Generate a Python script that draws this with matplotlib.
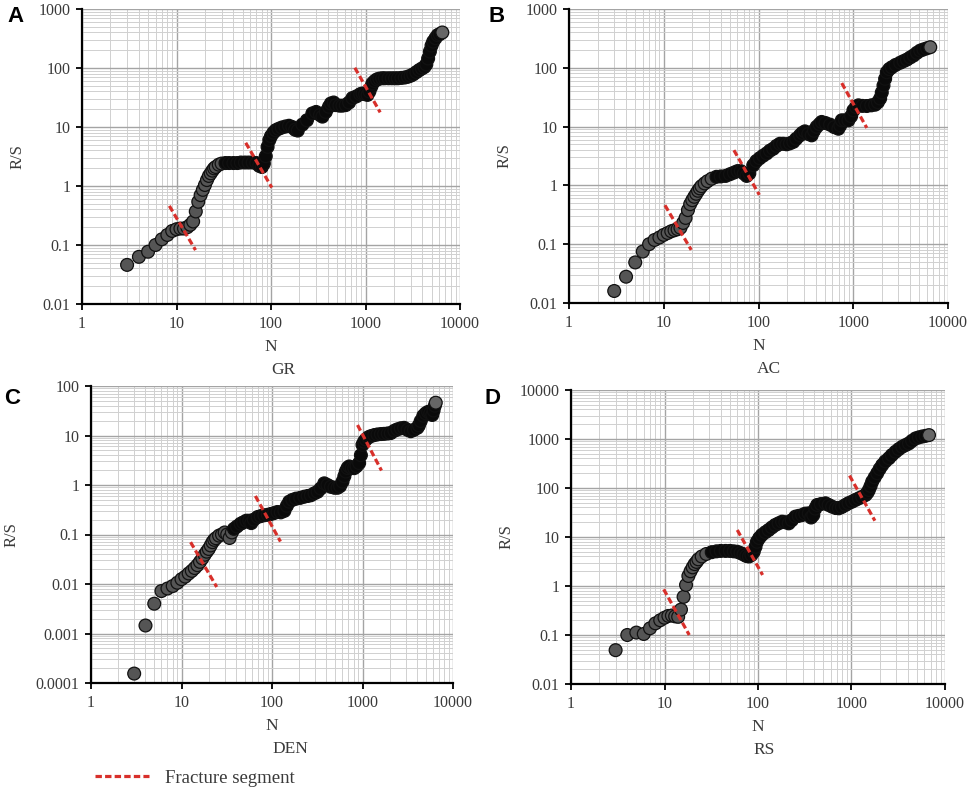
import numpy as np
import matplotlib
matplotlib.use("Agg")
import matplotlib.pyplot as plt
from matplotlib.lines import Line2D
from matplotlib.ticker import LogLocator, FixedLocator, FuncFormatter, NullFormatter

plt.rcParams['font.family'] = ['Liberation Serif', 'DejaVu Serif']

# ---- data (N, R/S) ----
n_gr = [3, 4, 5, 6, 7, 8, 9, 10, 11, 12, 13, 14, 15, 16, 17, 18, 19, 20, 21, 22, 23, 24, 25, 26, 28, 30,
        33, 36, 40, 44, 48, 53, 58, 64, 70, 75, 80, 84, 88, 92, 96, 100, 106, 112, 120, 130, 142, 155, 168,
        180, 192, 215, 240, 274, 300, 330, 350, 380, 410, 430, 460, 485, 530, 570, 618, 670, 728, 800, 880,
        929, 990, 1050, 1100, 1150, 1186, 1250, 1320, 1400, 1500, 1600, 1750, 1900, 2050, 2200, 2400, 2600,
        2800, 3000, 3200, 3450, 3700, 3950, 4200, 4400, 4600, 4800, 5000, 5200, 5500, 5800, 6100, 6500]
rs_gr = [0.046, 0.063, 0.077, 0.10, 0.125, 0.148, 0.173, 0.185, 0.19, 0.19, 0.20, 0.22, 0.25, 0.37, 0.54,
         0.70, 0.86, 1.04, 1.26, 1.48, 1.64, 1.82, 1.99, 2.1, 2.3, 2.4, 2.45, 2.45, 2.45, 2.45, 2.5, 2.5, 2.5,
         2.5, 2.45, 2.2, 2.1, 2.4, 3.2, 4.6, 6.0, 7.0, 8.0, 8.8, 9.3, 9.8, 10.2, 10.5, 10, 9.0, 8.7, 11, 13,
         17, 18, 16, 15, 18, 22, 25, 26, 23.5, 23, 23, 23.5, 26, 31, 33, 36, 37, 36, 35, 40, 48, 55, 60, 64,
         66, 67, 67, 67, 67, 67, 67, 68, 69, 71, 74, 78, 85, 92, 98, 104, 115, 145, 190, 240, 280, 320, 360,
         375, 400]

n_ac = [3, 4, 5, 6, 7, 8, 9, 10, 11, 12, 13, 14, 15, 16, 17, 18, 19, 20, 21, 22, 23, 24, 25, 27, 29, 32,
        36, 40, 45, 50, 55, 60, 65, 70, 75, 80, 88, 95, 103, 112, 122, 132, 143, 155, 168, 182, 198, 215,
        233, 250, 274, 290, 309, 335, 364, 385, 411, 440, 464, 510, 569, 630, 697, 730, 756, 820, 889, 950,
        1004, 1070, 1134, 1250, 1390, 1550, 1701, 1820, 1922, 2000, 2085, 2170, 2260, 2400, 2553, 2800,
        3130, 3400, 3680, 4000, 4334, 4700, 5093, 5500, 6000, 6500]
rs_ac = [0.016, 0.028, 0.049, 0.075, 0.10, 0.118, 0.13, 0.144, 0.155, 0.166, 0.173, 0.18, 0.19, 0.23,
         0.28, 0.38, 0.48, 0.56, 0.64, 0.72, 0.81, 0.89, 0.97, 1.08, 1.18, 1.3, 1.4, 1.42, 1.45, 1.55, 1.65,
         1.75, 1.75, 1.6, 1.45, 1.6, 2.2, 2.6, 2.9, 3.2, 3.5, 3.9, 4.2, 4.7, 5.1, 5.1, 5.0, 5.2, 5.5, 6.2,
         7.1, 7.8, 8.3, 7.5, 7.1, 8.5, 9.9, 11, 12, 11.5, 10.8, 9.8, 9.2, 10.5, 12.8, 12.8, 12.8, 15, 18.9,
         21.5, 23, 22.5, 22.4, 23, 23.6, 26, 30, 38, 50, 65, 84, 95, 102, 112, 122, 130, 138, 150, 162, 180,
         196, 205, 215, 224]

n_den = [3, 4, 5, 6, 7, 8, 9, 10, 11, 12, 13, 14, 15, 16, 17, 18, 19, 20, 21, 22, 23, 24, 26, 28, 30, 32,
         34, 36, 38, 41, 45, 48, 52, 56, 59, 63, 69.5, 75, 82, 90, 97.5, 105, 115, 125, 137, 146, 155, 168,
         184, 205, 227, 248, 269, 295, 319, 345, 378, 410, 448, 490, 530, 565, 601, 630, 654, 683, 713, 760,
         809, 860, 918, 960, 1000, 1040, 1089, 1160, 1236, 1350, 1463, 1600, 1734, 1900, 2053, 2250, 2432,
         2650, 2882, 3150, 3413, 3700, 4044, 4200, 4398, 4700, 5000, 5300, 5600, 5900, 6100, 6300, 6450]
rs_den = [0.000155, 0.00145, 0.004, 0.0072, 0.0081, 0.0091, 0.0106, 0.0125, 0.0141, 0.0163, 0.0184, 0.021,
          0.024, 0.028, 0.033, 0.039, 0.045, 0.051, 0.060, 0.070, 0.078, 0.084, 0.095, 0.10, 0.11, 0.10,
          0.085, 0.11, 0.13, 0.145, 0.165, 0.175, 0.19, 0.19, 0.17, 0.2, 0.226, 0.235, 0.245, 0.25, 0.26,
          0.27, 0.285, 0.28, 0.3, 0.38, 0.46, 0.5, 0.53, 0.55, 0.58, 0.6, 0.62, 0.68, 0.73, 0.85, 1.08, 1.0,
          0.92, 0.88, 0.88, 0.95, 1.17, 1.5, 1.87, 2.2, 2.37, 2.2, 2.19, 2.4, 2.77, 4.0, 6.5, 7.5, 8.3, 9.2,
          9.7, 10.2, 10.5, 10.7, 10.8, 11, 11.2, 12.5, 13.3, 14, 14.3, 13, 12.2, 13, 14.3, 16, 19.6, 25, 28,
          30, 28, 26, 32, 40, 46]

n_rs = [3, 4, 5, 6, 7, 8, 9, 10, 11, 12, 13, 14, 15, 16, 17, 18, 19, 20, 21, 22, 23, 25, 28, 32, 36, 40,
        45, 50, 55, 60, 65, 70, 75, 80, 85, 90, 94, 97.5, 103, 110, 120, 130, 141, 153, 166, 181, 196, 213,
        230, 251, 272, 296, 320, 349, 370, 390, 410, 429, 470, 526, 570, 621, 680, 731, 790, 862, 930,
        1016, 1100, 1199, 1300, 1413, 1480, 1534, 1600, 1665, 1770, 1883, 2000, 2131, 2300, 2512, 2700,
        2960, 3200, 3491, 3800, 4113, 4450, 4849, 5250, 5714, 6200, 6741]
rs_rs = [0.049, 0.10, 0.112, 0.105, 0.137, 0.173, 0.20, 0.225, 0.245, 0.25, 0.24, 0.235, 0.33, 0.6, 1.05,
         1.6, 2.0, 2.4, 2.8, 3.1, 3.5, 4.0, 4.5, 4.9, 5.1, 5.2, 5.2, 5.2, 5.1, 5.0, 4.7, 4.4, 4.1, 4.0, 4.3,
         5.0, 6.3, 8.0, 9.5, 11, 12.5, 13.9, 15.7, 17.6, 19, 20.5, 20, 19, 22, 26, 27, 28, 30, 30.4, 25, 28,
         38, 45, 47, 48.7, 45, 41.6, 39, 38.5, 41, 45, 49, 52.7, 57, 61.6, 66, 72, 80, 91, 110, 135, 165,
         200, 245, 294, 350, 405, 470, 550, 620, 696, 755, 815, 920, 1028, 1080, 1125, 1160, 1200]

# fracture segments: ((N start, N end), (R/S start, R/S end))
seg_gr = [((8.4, 15.9), (0.46, 0.082)), ((54, 102), (5.4, 0.94)), ((771, 1430), (101, 17.7))]
seg_ac = [((10.3, 19.5), (0.46, 0.080)), ((55, 102), (3.97, 0.69)), ((756, 1390), (55, 9.5))]
seg_den = [((12.6, 24.5), (0.07, 0.0087)), ((65.5, 124), (0.60, 0.072)), ((881, 1621), (16.3, 1.96))]
seg_rs = [((9.8, 18.4), (0.855, 0.10)), ((60, 112), (13.9, 1.68)), ((952, 1778), (179, 21.5))]

W, H = 969, 789
fig = plt.figure(figsize=(W / 100, H / 100), dpi=100)

RED = '#d8302b'
TXT = '#3a3a3a'


def panel(box, n, rs, segs, ylim, letter, letter_xy, name, name_x, gray_cut):
    l, r, t, b = box
    ax = fig.add_axes([l / W, 1 - b / H, (r - l) / W, (b - t) / H])
    ax.set_xscale('log')
    ax.set_yscale('log')
    ax.set_xlim(1, 10000)
    ax.set_ylim(*ylim)

    n = np.array(n, dtype=float)
    rs = np.array(rs, dtype=float)
    face = np.where(n <= gray_cut, '#555555', '#0a0a0a')
    face[-1] = '#666666'
    ax.scatter(n, rs, s=85, c=list(face), edgecolors='#111111', linewidths=0.9, zorder=3, clip_on=False)

    for xs, ys in segs:
        ax.plot(xs, ys, color=RED, lw=2.3, dashes=(2, 1), zorder=4)

    dec_y = np.arange(int(np.log10(ylim[0])), int(np.log10(ylim[1])) + 1)
    ax.xaxis.set_major_locator(FixedLocator([1, 10, 100, 1000, 10000]))
    ax.yaxis.set_major_locator(FixedLocator(10.0 ** dec_y))
    fmt = FuncFormatter(lambda v, p: '%g' % v)
    ax.xaxis.set_major_formatter(fmt)
    ax.yaxis.set_major_formatter(fmt)
    for axis in (ax.xaxis, ax.yaxis):
        axis.set_minor_locator(LogLocator(base=10, subs=np.arange(2, 10), numticks=100))
        axis.set_minor_formatter(NullFormatter())

    ax.grid(True, which='major', color='#a4a4a4', lw=1.0, zorder=0)
    ax.grid(True, which='minor', color='#d0d0d0', lw=0.7, zorder=0)
    ax.set_axisbelow(True)
    for s in ('top', 'right'):
        ax.spines[s].set_visible(False)
    for s in ('left', 'bottom'):
        ax.spines[s].set_linewidth(1.6)
        ax.spines[s].set_color('black')
    ax.tick_params(which='major', direction='out', length=4.5, width=1.3, labelsize=11.5,
                   labelcolor=TXT, pad=4)
    ax.tick_params(which='minor', length=0)

    hpx = b - t
    ax.text(0.5, -43 / hpx, 'N', transform=ax.transAxes, ha='center', va='center',
            fontsize=12.5, color=TXT)
    ax.text(name_x, -66 / hpx, name, transform=ax.transAxes, ha='center', va='center',
            fontsize=12.5, color=TXT)
    ylab_off = 64 if ylim[0] >= 0.01 else 79
    ax.text(-ylab_off / (r - l), 0.5, 'R/S', transform=ax.transAxes, rotation=90,
            ha='center', va='center', fontsize=12, color=TXT)
    fig.text(letter_xy[0] / W, 1 - letter_xy[1] / H, letter, ha='center', va='center',
             fontsize=16, fontweight='bold', family=['Liberation Sans', 'DejaVu Sans'])
    return ax


panel((82, 460, 9, 304), n_gr, rs_gr, seg_gr, (0.01, 1000), 'A', (15, 16), 'GR', 0.532, 30)
panel((569, 948, 9, 303), n_ac, rs_ac, seg_ac, (0.01, 1000), 'B', (497, 17), 'AC', 0.528, 33)
panel((91, 453, 386, 683), n_den, rs_den, seg_den, (0.0001, 100), 'C', (12, 399), 'DEN', 0.552, 36)
panel((571, 945, 390, 684), n_rs, rs_rs, seg_rs, (0.01, 10000), 'D', (492, 399), 'RS', 0.516, 30)

handle = Line2D([], [], color=RED, lw=2.3, dashes=(2, 1))
fig.legend([handle], ['Fracture segment'], loc='center left', bbox_to_anchor=(95 / W, 1 - 778 / H),
           frameon=False, handlelength=2.9, handletextpad=0.85, fontsize=13.5, labelcolor=TXT,
           borderaxespad=0, borderpad=0)

fig.savefig('out.png', dpi=100)
